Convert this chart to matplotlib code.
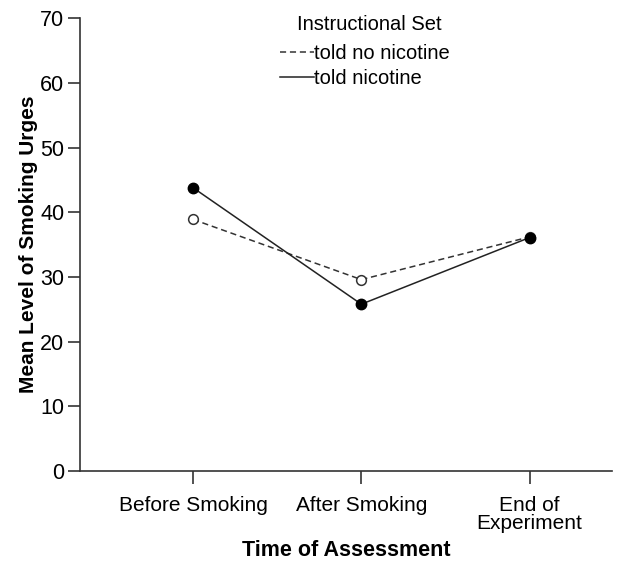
import matplotlib
matplotlib.use('Agg')
import matplotlib.pyplot as plt
from matplotlib.lines import Line2D

plt.rcParams['font.family'] = ['Liberation Sans', 'DejaVu Sans']

# data
times = ['Before Smoking', 'After Smoking', 'End of\nExperiment']
told_no_nicotine = [38.9, 29.6, 36.2]
told_nicotine = [43.8, 25.8, 36.1]
series_names = ['told no nicotine', 'told nicotine']

fig = plt.figure(figsize=(6.33, 5.67), dpi=100)
ax = fig.add_axes([0.126, 0.169, 0.841, 0.799])

x = range(len(times))
dash = (0, (4, 2.5))
ax.plot(x, told_no_nicotine, color='#333333', lw=1.1, ls=dash,
        marker='o', ms=7, mfc='white', mec='#333333', mew=1.1)
ax.plot(x, told_nicotine, color='#222222', lw=1.1, ls='-',
        marker='o', ms=7.5, mfc='black', mec='black')

ax.set_xlim(-0.673, 2.49)
ax.set_ylim(0, 70)
ax.set_yticks(range(0, 71, 10))
ax.set_xticks(list(x))
ax.set_xticklabels(times, fontsize=15, linespacing=0.9)
ax.tick_params(axis='y', labelsize=15.5, length=9, width=1.2, color='#333333', pad=2)
ax.tick_params(axis='x', length=9, width=1.2, color='#333333', pad=9)
for s in ['top', 'right']:
    ax.spines[s].set_visible(False)
for s in ['left', 'bottom']:
    ax.spines[s].set_color('#333333')
    ax.spines[s].set_linewidth(1.2)

ax.set_xlabel('Time of Assessment', fontsize=15.5, fontweight='bold', labelpad=5)
ax.set_ylabel('Mean Level of Smoking Urges', fontsize=15, fontweight='bold', labelpad=2)

handles = [Line2D([], [], color='#333333', lw=1.1, ls=dash),
           Line2D([], [], color='#222222', lw=1.1, ls='-')]
leg = ax.legend(handles, series_names, loc='upper left', bbox_to_anchor=(0.376, 0.942),
                frameon=False, fontsize=14.5, handlelength=1.7,
                handletextpad=0.0, labelspacing=0.3, borderaxespad=0.0, borderpad=0.0)
fig.text(297 / 633, 1 - 24 / 567, 'Instructional Set', fontsize=14.5, va='center', ha='left')

fig.savefig('out.png', dpi=100)
